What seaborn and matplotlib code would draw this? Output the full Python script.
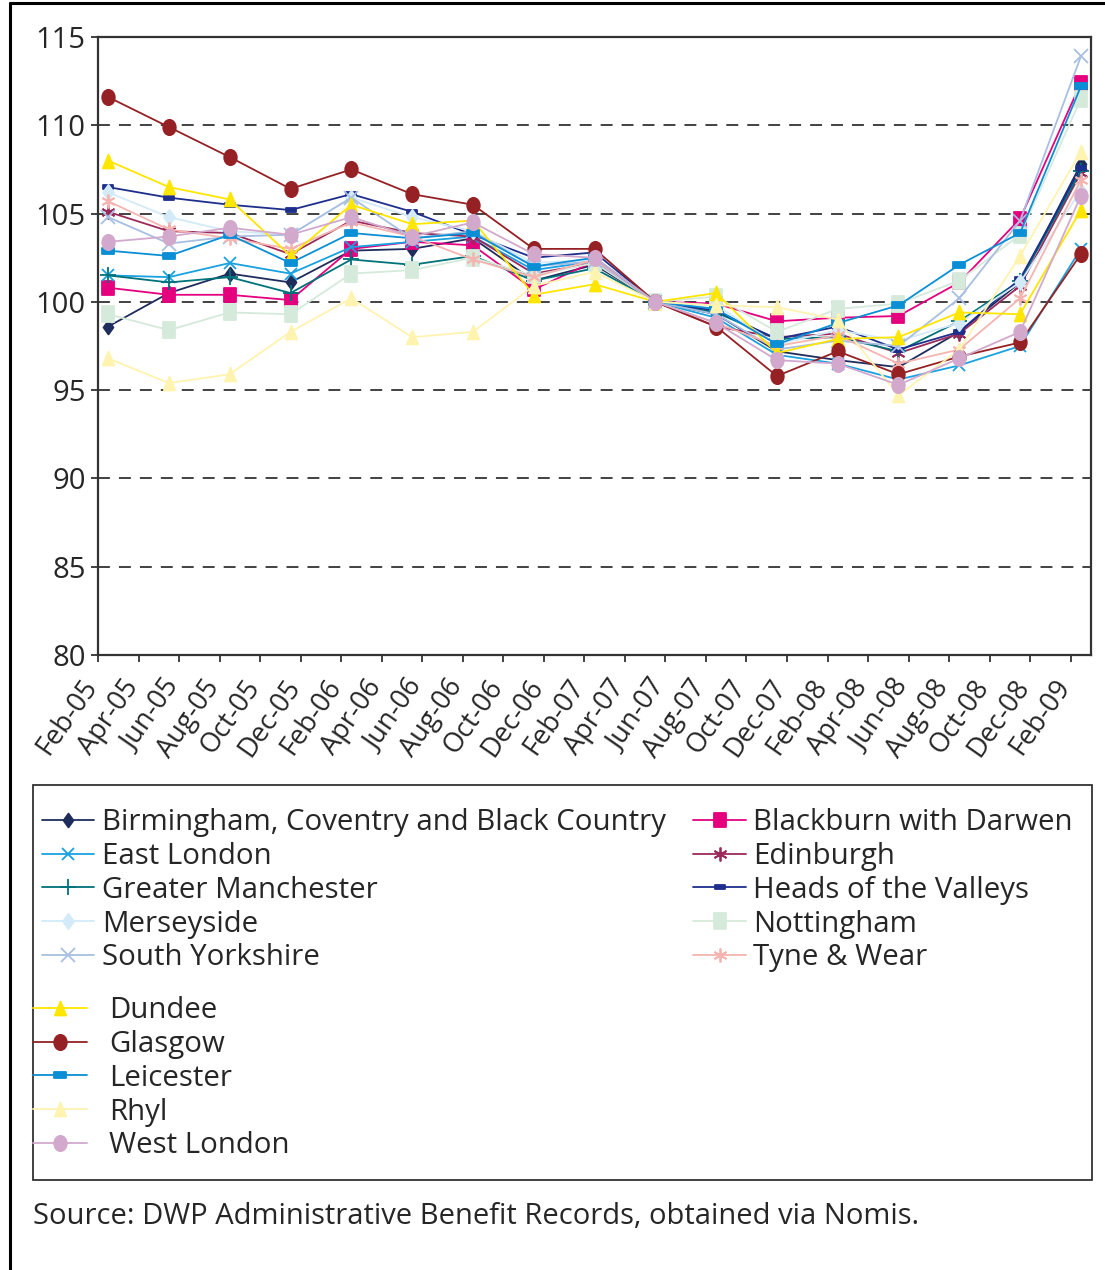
import numpy as np
import matplotlib
matplotlib.use("Agg")
import matplotlib.pyplot as plt
import matplotlib.transforms as mtransforms
import seaborn as sns
from matplotlib.lines import Line2D
from matplotlib.patches import Rectangle
from matplotlib.markers import MarkerStyle
from matplotlib.path import Path

# ---- data -------------------------------------------------------------
tick_labels = ["Feb-05", "Apr-05", "Jun-05", "Aug-05", "Oct-05", "Dec-05",
               "Feb-06", "Apr-06", "Jun-06", "Aug-06", "Oct-06", "Dec-06",
               "Feb-07", "Apr-07", "Jun-07", "Aug-07", "Oct-07", "Dec-07",
               "Feb-08", "Apr-08", "Jun-08", "Aug-08", "Oct-08", "Dec-08",
               "Feb-09"]
# quarterly observations, Feb-05 .. Feb-09
quarters = ["Feb-05", "May-05", "Aug-05", "Nov-05", "Feb-06", "May-06",
            "Aug-06", "Nov-06", "Feb-07", "May-07", "Aug-07", "Nov-07",
            "Feb-08", "May-08", "Aug-08", "Nov-08", "Feb-09"]

birmingham = [98.6, 100.5, 101.6, 101.1, 102.9, 103.0, 103.6, 101.2, 102.1, 100, 99.3, 97.2, 96.7, 96.3, 98.3, 101.1, 107.8]
blackburn = [100.8, 100.4, 100.4, 100.1, 103.0, 103.4, 103.2, 100.7, 102.3, 100, 99.9, 98.9, 99.1, 99.2, 101.1, 104.7, 112.4]
east_london = [101.5, 101.4, 102.2, 101.6, 103.1, 103.4, 103.7, 101.8, 102.3, 100, 99.1, 97.0, 96.5, 95.6, 96.4, 97.5, 103.0]
edinburgh = [105.1, 104.0, 103.9, 102.7, 104.6, 103.9, 103.7, 101.6, 102.2, 100, 98.6, 98.0, 98.2, 97.1, 98.2, 100.9, 107.3]
greater_manchester = [101.5, 101.1, 101.4, 100.5, 102.4, 102.1, 102.6, 101.2, 101.9, 100, 99.4, 97.9, 98.0, 97.2, 98.9, 101.2, 107.4]
heads_valleys = [106.5, 105.9, 105.5, 105.2, 106.1, 105.1, 103.8, 102.5, 102.8, 100, 99.5, 97.9, 98.6, 97.3, 98.3, 101.3, 107.6]
merseyside = [106.2, 104.8, 104.0, 103.8, 105.9, 104.8, 104.0, 102.2, 102.4, 100, 99.8, 97.6, 98.4, 97.8, 98.8, 101.1, 106.3]
nottingham = [99.3, 98.4, 99.4, 99.3, 101.6, 101.8, 102.5, 101.5, 102.2, 100, 100.3, 98.3, 99.6, 99.9, 101.2, 103.8, 111.5]
south_yorkshire = [104.8, 103.3, 103.7, 103.8, 105.9, 103.6, 104.0, 102.0, 102.3, 100, 99.3, 97.3, 97.8, 97.5, 100.2, 104.6, 113.9]
tyne_wear = [105.7, 104.1, 103.6, 103.0, 104.5, 103.7, 102.4, 101.4, 102.4, 100, 98.8, 97.5, 98.1, 96.5, 97.3, 100.2, 106.9]
dundee = [108.0, 106.5, 105.8, 102.6, 105.5, 104.4, 104.6, 100.4, 101.0, 100, 100.5, 97.1, 97.9, 98.0, 99.4, 99.3, 105.2]
glasgow = [111.6, 109.9, 108.2, 106.4, 107.5, 106.1, 105.5, 103.0, 103.0, 100, 98.6, 95.8, 97.2, 95.9, 96.9, 97.7, 102.7]
leicester = [102.9, 102.6, 103.8, 102.2, 103.9, 103.6, 103.9, 102.0, 102.5, 100, 99.6, 97.6, 98.8, 99.8, 102.1, 103.9, 112.2]
rhyl = [96.8, 95.4, 95.9, 98.3, 100.2, 98.0, 98.3, 100.9, 101.7, 100, 99.8, 99.7, 99.0, 94.7, 97.3, 102.6, 108.5]
west_london = [103.4, 103.7, 104.2, 103.8, 104.8, 103.7, 104.5, 102.7, 102.5, 100, 98.8, 96.7, 96.5, 95.3, 96.8, 98.3, 106.0]

source_text = "Source: DWP Administrative Benefit Records, obtained via Nomis."

# ---- styling -----------------------------------------------------------
sns.set_style("ticks")
plt.rcParams['font.family'] = ['Open Sans', 'DejaVu Sans']

W, H = 1105, 1270
FS = 21.2


def stretched(m, sy=1.22):
    ms = MarkerStyle(m)
    p = ms.get_path().transformed(ms.get_transform())
    return Path(p.vertices * np.array([1.0, sy]), p.codes)


rect = Path([(-1, -0.42), (1, -0.42), (1, 0.42), (-1, 0.42), (-1, -0.42)],
            [Path.MOVETO, Path.LINETO, Path.LINETO, Path.LINETO, Path.CLOSEPOLY])
asterisk = (6, 2, 0)

# name, values, colour, marker, marker size
series = [
    ("Birmingham, Coventry and Black Country", birmingham, "#1f2d5c", stretched("D", 1.4), 10),
    ("Blackburn with Darwen", blackburn, "#e5007e", stretched("s"), 10),
    ("East London", east_london, "#1aa1e0", "x", 9),
    ("Edinburgh", edinburgh, "#9b2a5b", asterisk, 10),
    ("Greater Manchester", greater_manchester, "#00727a", "+", 11),
    ("Heads of the Valleys", heads_valleys, "#1e2e8c", rect, 7),
    ("Merseyside", merseyside, "#d3eaf9", stretched("D", 1.4), 11),
    ("Nottingham", nottingham, "#d5eadb", stretched("s"), 11),
    ("South Yorkshire", south_yorkshire, "#a8bfe2", "x", 10),
    ("Tyne & Wear", tyne_wear, "#f5b4b0", asterisk, 10),
    ("Dundee", dundee, "#ffe600", stretched("^"), 10),
    ("Glasgow", glasgow, "#952124", stretched("o"), 11),
    ("Leicester", leicester, "#0a8fd6", rect, 9),
    ("Rhyl", rhyl, "#fff3b0", stretched("^"), 10),
    ("West London", west_london, "#d2a9cd", stretched("o"), 11),
]

fig = plt.figure(figsize=(W / 100, H / 100), dpi=100)
ax = fig.add_axes([98 / W, 1 - 655 / H, (1091 - 98) / W, (655 - 37) / H])

# monthly category axis: each quarter sits in the middle of its month slot
xpos = np.arange(len(quarters)) * 3 + 0.5

handles = {}
for name, vals, col, mk, ms in series:
    sns.lineplot(x=xpos, y=vals, ax=ax, color=col, marker=mk, markersize=ms,
                 markeredgecolor=col, markerfacecolor=col, markeredgewidth=1.3,
                 linewidth=1.3, label=name)
    handles[name] = Line2D([], [], color=col, marker=mk, markersize=ms,
                           markeredgecolor=col, markerfacecolor=col,
                           markeredgewidth=1.3, linewidth=1.3)
if ax.get_legend() is not None:
    ax.get_legend().remove()

ax.set_xlim(0, 49)
ax.set_ylim(80, 115)
ax.set_yticks(np.arange(80, 116, 5))
ax.set_xticks(np.arange(0, 49, 2))
ax.set_xticklabels(tick_labels, rotation=55, ha="right", va="baseline",
                   rotation_mode="anchor", fontsize=19.5)
shift = mtransforms.ScaledTranslation(20 / 100, 0, fig.dpi_scale_trans)
for lab in ax.get_xticklabels():
    lab.set_transform(lab.get_transform() + shift)
ax.tick_params(axis="y", labelsize=21, length=5, width=1.3, color="#333333", pad=4)
ax.tick_params(axis="x", length=5, width=1.3, color="#333333", pad=17.5)
ax.set_xlabel("")
ax.set_ylabel("")
for s in ax.spines.values():
    s.set_visible(True)
    s.set_color("#333333")
    s.set_linewidth(1.6)
ax.yaxis.grid(True, color="#333333", linewidth=1.3, linestyle=(0, (6.6, 5.0)))
ax.set_axisbelow(True)

# legend: two blocks inside one box
top_order = ["Birmingham, Coventry and Black Country", "East London",
             "Greater Manchester", "Merseyside", "South Yorkshire",
             "Blackburn with Darwen", "Edinburgh", "Heads of the Valleys",
             "Nottingham", "Tyne & Wear"]
bottom_order = ["Dundee", "Glasgow", "Leicester", "Rhyl", "West London"]

leg_kw = dict(frameon=False, fontsize=FS, borderpad=0, borderaxespad=0,
              labelspacing=0.165, numpoints=1, loc="upper left")
leg1 = fig.legend([handles[n] for n in top_order], top_order, ncol=2,
                  columnspacing=0.94, handlelength=1.77, handletextpad=0.26,
                  bbox_to_anchor=(42 / W, 1 - 808 / H), **leg_kw)
leg2 = fig.legend([handles[n] for n in bottom_order], bottom_order, ncol=1,
                  handlelength=1.84, handletextpad=0.75,
                  bbox_to_anchor=(33 / W, 1 - 996 / H), **leg_kw)

fig.add_artist(Rectangle((33 / W, 1 - 1180 / H), (1092 - 33) / W, (1180 - 785) / H,
                         transform=fig.transFigure, fill=False,
                         edgecolor="#333333", linewidth=1.3))
fig.text(33 / W, 1 - 1216 / H, source_text, fontsize=21, va="center", ha="left")

# outer frame (left and top edges)
fig.add_artist(Line2D([9.5 / W, 9.5 / W], [0, 1 - 3 / H], transform=fig.transFigure,
                      color="black", linewidth=2.2))
fig.add_artist(Line2D([9.5 / W, 1], [1 - 3 / H, 1 - 3 / H], transform=fig.transFigure,
                      color="black", linewidth=2.2))

fig.savefig("out.png", dpi=100, facecolor="white")
